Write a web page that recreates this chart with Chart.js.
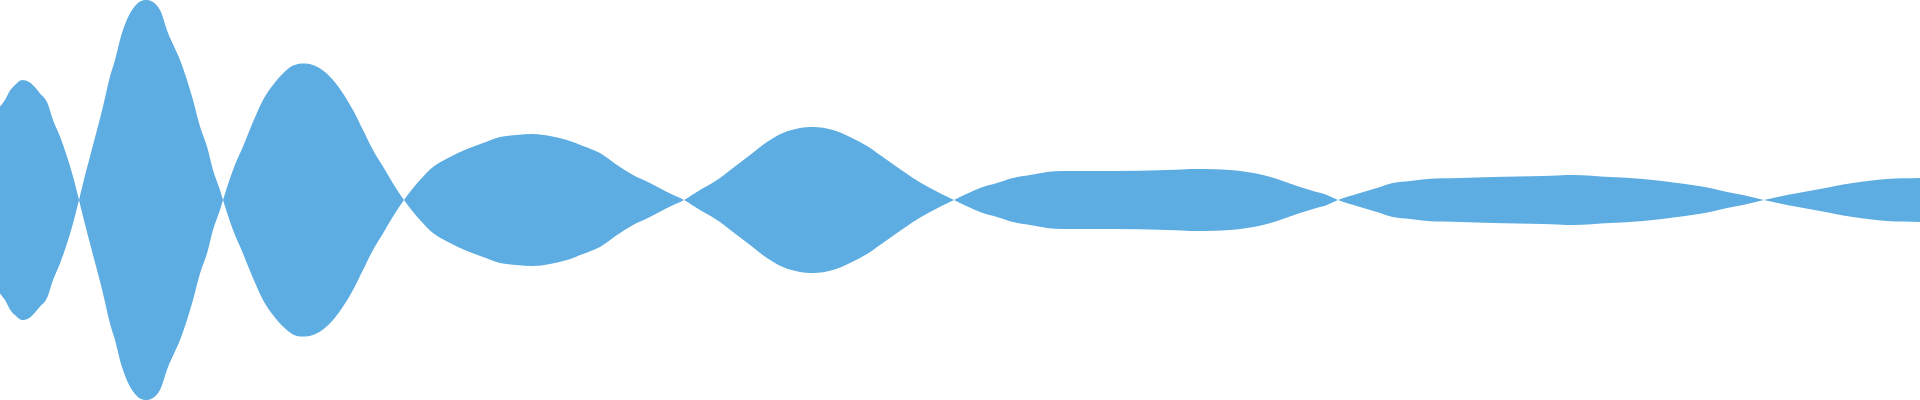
<!DOCTYPE html>
<html>
<head>
<meta charset="utf-8">
<script src="https://cdn.jsdelivr.net/npm/chart.js@4"></script>
<style>
  html, body { margin: 0; padding: 0; background: #fff; }
  #wrap { width: 1920px; height: 400px; }
</style>
</head>
<body>
<div id="wrap"><canvas id="waveChart"></canvas></div>
<script>
// position of each sample along the clip
const samplePos = [
  0, 5, 10, 15, 22, 30, 40, 47, 53, 60, 67, 73, 79,
  83, 90, 97, 103, 110, 115, 122, 132, 145, 160, 168, 180, 187, 193, 200, 207, 213, 220, 223,
  233, 243, 253, 263, 273, 283, 293, 303, 313, 323, 333, 343, 353, 363, 373, 383, 393, 404,
  420, 433, 450, 467, 483, 500, 517, 533, 550, 567, 583, 600, 617, 633, 650, 667, 684,
  700, 717, 733, 750, 767, 783, 800, 813, 833, 850, 867, 880, 897, 913, 930, 954,
  980, 997, 1013, 1030, 1047, 1063, 1113, 1167, 1197, 1230, 1247, 1263, 1280, 1297, 1313, 1327, 1338,
  1360, 1377, 1393, 1410, 1427, 1460, 1493, 1543, 1573, 1610, 1643, 1677, 1710, 1727, 1743, 1764,
  1787, 1820, 1853, 1887, 1920
]

// signed amplitude (-1..1)
const amplitude = [
  0.467, 0.50, 0.547, 0.575, 0.60, 0.587, 0.533, 0.49, 0.40, 0.317, 0.217, 0.117, 0,
  -0.083, -0.217, -0.35, -0.467, -0.617, -0.70, -0.835, -0.95, -1.0, -0.95, -0.835, -0.70, -0.60, -0.50, -0.367, -0.267, -0.15, -0.05, 0,
  0.15, 0.267, 0.39, 0.50, 0.575, 0.633, 0.672, 0.683, 0.675, 0.647, 0.60, 0.533, 0.45, 0.35, 0.25, 0.167, 0.083, 0,
  -0.10, -0.165, -0.215, -0.255, -0.285, -0.315, -0.325, -0.33, -0.32, -0.30, -0.27, -0.235, -0.175, -0.125, -0.085, -0.04, 0,
  0.05, 0.10, 0.16, 0.225, 0.29, 0.335, 0.36, 0.365, 0.35, 0.315, 0.27, 0.225, 0.165, 0.11, 0.06, 0,
  -0.06, -0.085, -0.11, -0.125, -0.14, -0.145, -0.145, -0.15, -0.155, -0.15, -0.14, -0.125, -0.10, -0.07, -0.045, -0.025, 0,
  0.035, 0.06, 0.085, 0.095, 0.105, 0.11, 0.115, 0.12, 0.125, 0.115, 0.105, 0.085, 0.06, 0.04, 0.025, 0,
  -0.025, -0.055, -0.085, -0.105, -0.11
]

const waveColor = "rgb(93, 173, 226)"

// the wave is drawn mirrored: the area between +a and -a is filled
const upper = samplePos.map((x, i) => ({ x: x, y: amplitude[i] }))
const lower = samplePos.map((x, i) => ({ x: x, y: -amplitude[i] }))

const ctx = document.getElementById("waveChart").getContext("2d")
new Chart(ctx, {
  type: "line",
  data: {
    datasets: [
      {
        label: "upper",
        data: upper,
        borderWidth: 0,
        borderColor: waveColor,
        backgroundColor: waveColor,
        pointRadius: 0,
        cubicInterpolationMode: "monotone",
        fill: "+1",
      },
      {
        label: "lower",
        data: lower,
        borderWidth: 0,
        borderColor: waveColor,
        backgroundColor: waveColor,
        pointRadius: 0,
        cubicInterpolationMode: "monotone",
        fill: false,
      },
    ],
  },
  options: {
    responsive: true,
    maintainAspectRatio: false,
    animation: false,
    layout: { padding: 0 },
    plugins: {
      legend: { display: false },
      tooltip: { enabled: false },
    },
    scales: {
      x: { type: "linear", min: 0, max: 1920, display: false },
      y: { min: -1, max: 1, display: false },
    },
  },
})
</script>
</body>
</html>
